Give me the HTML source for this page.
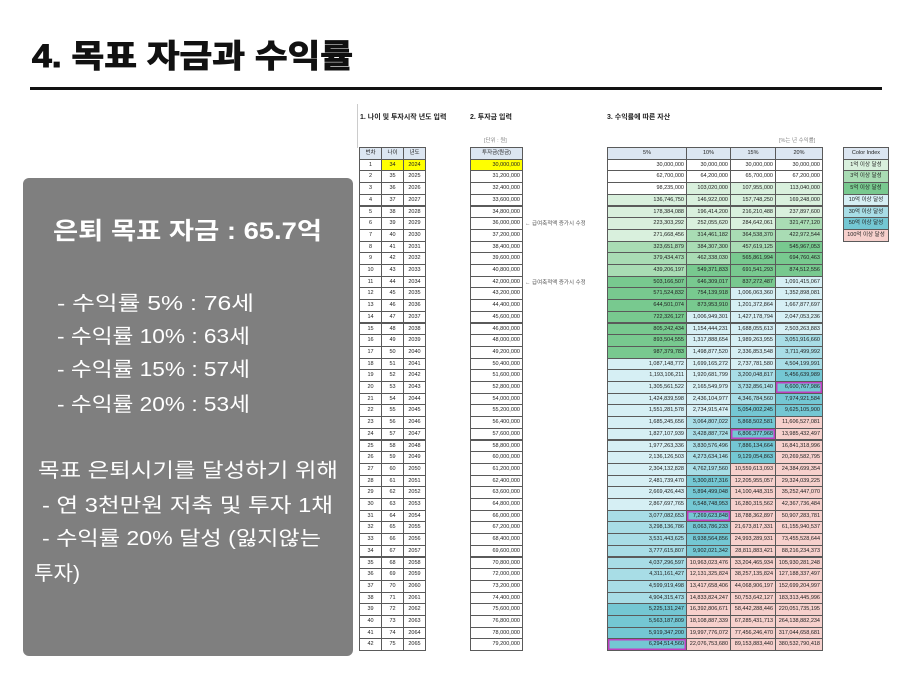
<!DOCTYPE html>
<html><head><meta charset="utf-8">
<style>
body{margin:0;width:912px;height:684px;background:#fff;position:relative;overflow:hidden;font-family:"Liberation Sans","Noto Sans CJK KR",sans-serif}
.c{position:absolute;box-sizing:border-box;border:1px solid #5a5a5a;font-size:5.5px;color:#222;line-height:10px;padding:0 2px;white-space:nowrap;overflow:hidden}
.r{text-align:right}.m{text-align:center}
.t{position:absolute;font-size:7px;font-weight:bold;color:#222;white-space:nowrap}
.s{position:absolute;font-size:5.5px;color:#888;white-space:nowrap}
</style></head><body>
<svg width="912" height="684" style="position:absolute;left:0;top:0">
<text x="32" y="67" font-family="Liberation Sans,Noto Sans CJK KR,sans-serif" font-weight="bold" font-size="32" fill="#111" stroke="#111" stroke-width="1" textLength="321" lengthAdjust="spacingAndGlyphs">4. 목표 자금과 수익률</text>
<rect x="30" y="87" width="852" height="3" fill="#111"/>
<rect x="23" y="178" width="330" height="478" rx="6" fill="#7f7f7f"/>
<g font-family="Liberation Sans,Noto Sans CJK KR,sans-serif" fill="#fff">
<text x="53" y="239" font-size="24" font-weight="bold" textLength="269" lengthAdjust="spacingAndGlyphs">은퇴 목표 자금 : 65.7억</text>
<text x="57" y="310" font-size="20" textLength="197" lengthAdjust="spacingAndGlyphs">- 수익률    5% : 76세</text>
<text x="57" y="343" font-size="20" textLength="193" lengthAdjust="spacingAndGlyphs">- 수익률 10% : 63세</text>
<text x="57" y="376" font-size="20" textLength="193" lengthAdjust="spacingAndGlyphs">- 수익률 15% : 57세</text>
<text x="57" y="411" font-size="20" textLength="193" lengthAdjust="spacingAndGlyphs">- 수익률 20% : 53세</text>
<text x="38" y="477" font-size="20" textLength="300" lengthAdjust="spacingAndGlyphs">목표 은퇴시기를 달성하기 위해</text>
<text x="42" y="512" font-size="20" textLength="291" lengthAdjust="spacingAndGlyphs">- 연 3천만원 저축 및 투자 1채</text>
<text x="42" y="545" font-size="20" textLength="279" lengthAdjust="spacingAndGlyphs">- 수익률 20% 달성 (잃지않는</text>
<text x="34" y="580" font-size="20" textLength="46" lengthAdjust="spacingAndGlyphs">투자)</text>
</g>
<rect x="357" y="104" width="1" height="44" fill="#ccc"/>
</svg>
<div class="t" style="left:360px;top:112px">1. 나이 및 투자시작 년도 입력</div>
<div class="t" style="left:470px;top:112px">2. 투자금 입력</div>
<div class="t" style="left:607px;top:112px">3. 수익률에 따른 자산</div>
<div class="s" style="left:484px;top:136px">[단위 : 원]</div>
<div class="s" style="left:779px;top:136px">[%는 년 수익률]</div>
<div id="g"></div>
<script>
var g='',H=11.7,T=147;
function cell(x,y,w,h,txt,cls,bg,extra){g+='<div class="c '+cls+'" style="left:'+x+'px;top:'+y+'px;width:'+w+'px;height:'+(h+1)+'px;background:'+bg+';'+(extra||'')+'">'+txt+'</div>';}
function f(n){return Math.round(n).toString().replace(/\B(?=(\d{3})+(?!\d))/g,',');}
var hb='#dce6f1';
cell(359,T,23,H,'번차','m',hb);cell(381,T,23,H,'나이','m',hb);cell(403,T,23,H,'년도','m',hb);
cell(470,T,53,H,'투자금(원금)','m',hb);
var cx=[607,686,730,775,822],rates=[.05,.1,.15,.2];
['5%','10%','15%','20%'].forEach(function(l,k){cell(cx[k],T,cx[k+1]-cx[k]+1,H,l,'m',hb);});
function col(v){if(v>=1e10)return'#f6d0cc';if(v>=5e9)return'#74c7d3';if(v>=3e9)return'#a8dde6';if(v>=1e9)return'#d6eff4';if(v>=5e8)return'#78c98f';if(v>=3e8)return'#a9dcb4';if(v>=1e8)return'#d9f0dd';return'#fff';}
var A=[0,0,0,0],hit=[0,0,0,0];
for(var i=1;i<=42;i++){
 var y=T+H*i,inv=30000000+1200000*(i-1);
 cell(359,y,23,H,i,'m','#fff');cell(381,y,23,H,33+i,'m',i==1?'#ffff00':'#fff');cell(403,y,23,H,2023+i,'m',i==1?'#ffff00':'#fff');
 cell(470,y,53,H,f(inv),'r',i==1?'#ffff00':'#fff');
 if(i==6||i==11)g+='<div class="s" style="left:525px;top:'+(y+2)+'px;color:#555">← 급여축적액 증가시 수정</div>';
 for(var k=0;k<4;k++){
  A[k]=i==1?inv:A[k]*(1+rates[k])+inv;
  var ex='';
  if(!hit[k]&&(A[k]>=6.57e9||(k==0&&i==42))){hit[k]=1;ex='box-shadow:inset 0 0 0 1.5px #c040c0;';}
  cell(cx[k],y,cx[k+1]-cx[k]+1,H,f(A[k]),'r',col(A[k]),ex);
 }
}
cell(843,T,46,H,'Color Index','m',hb);
[['1억 이상 달성','#d9f0dd'],['3억 이상 달성','#a9dcb4'],['5억 이상 달성','#78c98f'],['10억 이상 달성','#d6eff4'],['30억 이상 달성','#a8dde6'],['50억 이상 달성','#74c7d3'],['100억 이상 달성','#f6d0cc']].forEach(function(a,j){cell(843,T+H*(j+1),46,H,a[0],'m',a[1]);});
document.getElementById('g').innerHTML=g;
</script>
</body></html>
